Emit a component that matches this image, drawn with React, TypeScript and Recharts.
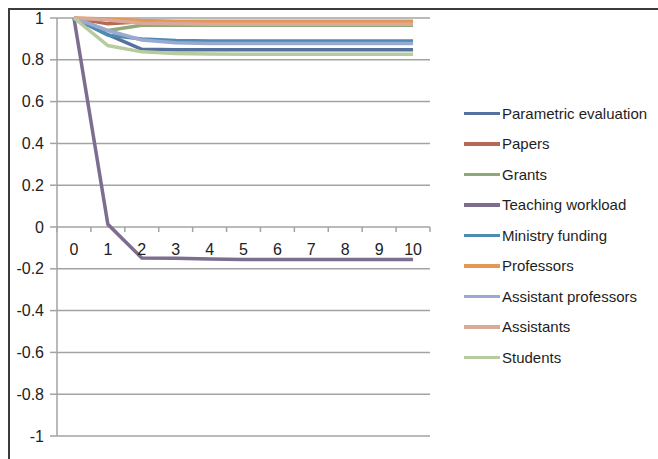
import React from 'react';
import { LineChart, Line, XAxis, YAxis, CartesianGrid } from 'recharts';

// Iteration steps on the horizontal axis
const steps = [0, 1, 2, 3, 4, 5, 6, 7, 8, 9, 10];

// Normalised indicator values per step
const parametricEvaluation = [1, 0.92, 0.85, 0.848, 0.848, 0.848, 0.848, 0.848, 0.848, 0.848, 0.848];
const papers = [1, 0.972, 0.982, 0.982, 0.982, 0.982, 0.982, 0.982, 0.982, 0.982, 0.982];
const grants = [1, 0.94, 0.965, 0.965, 0.965, 0.965, 0.965, 0.965, 0.965, 0.965, 0.965];
const teachingWorkload = [1, 0.013, -0.148, -0.15, -0.153, -0.155, -0.155, -0.155, -0.155, -0.155, -0.155];
const ministryFunding = [1, 0.918, 0.9, 0.892, 0.89, 0.89, 0.89, 0.89, 0.89, 0.89, 0.89];
const professors = [1, 0.995, 0.988, 0.985, 0.985, 0.985, 0.985, 0.985, 0.985, 0.985, 0.985];
const assistantProfessors = [1, 0.94, 0.895, 0.882, 0.878, 0.878, 0.878, 0.878, 0.878, 0.878, 0.878];
const assistants = [1, 0.99, 0.975, 0.972, 0.97, 0.97, 0.97, 0.97, 0.97, 0.97, 0.97];
const students = [1, 0.868, 0.838, 0.83, 0.828, 0.827, 0.827, 0.827, 0.827, 0.827, 0.827];

const yTicks = [-1, -0.8, -0.6, -0.4, -0.2, 0, 0.2, 0.4, 0.6, 0.8, 1];

const series = [
  { key: 'parametric', name: 'Parametric evaluation', values: parametricEvaluation, color: '#55729f' },
  { key: 'papers', name: 'Papers', values: papers, color: '#b56a55' },
  { key: 'grants', name: 'Grants', values: grants, color: '#8fa976' },
  { key: 'teaching', name: 'Teaching workload', values: teachingWorkload, color: '#7d6d8f' },
  { key: 'ministry', name: 'Ministry funding', values: ministryFunding, color: '#4f8ab3' },
  { key: 'professors', name: 'Professors', values: professors, color: '#e59756' },
  { key: 'asstProf', name: 'Assistant professors', values: assistantProfessors, color: '#98aacf' },
  { key: 'assistants', name: 'Assistants', values: assistants, color: '#dba99a' },
  { key: 'students', name: 'Students', values: students, color: '#b8cb9f' },
];

const data = steps.map((s, i) => {
  const row: Record<string, number> = { step: s };
  series.forEach((sr) => {
    row[sr.key] = sr.values[i];
  });
  return row;
});

// Chart geometry
const CHART_W = 648;
const CHART_H = 449;
const MARGIN = { top: 8, right: 228, bottom: 0, left: 0 };
const Y_AXIS_W = 47;
const X_AXIS_H = 23;
const Y_MIN = -1;
const Y_MAX = 1;
const PLOT_H = CHART_H - MARGIN.top - MARGIN.bottom - X_AXIS_H;
const PLOT_W = CHART_W - MARGIN.left - MARGIN.right - Y_AXIS_W;
const ZERO_Y = MARGIN.top + (PLOT_H * (Y_MAX - 0)) / (Y_MAX - Y_MIN);
const HALF_STEP = PLOT_W / steps.length / 2;

const FONT = '"Liberation Sans", Arial, sans-serif';
const AXIS_GRAY = '#a3a3a3';

// Category labels sit just under the zero line, with tick marks on category boundaries
const ZeroLineTick = (props: any) => {
  const { x, payload, index } = props;
  const last = index === steps.length - 1;
  return (
    <g>
      <line x1={x - HALF_STEP} x2={x - HALF_STEP} y1={ZERO_Y} y2={ZERO_Y + 5} stroke={AXIS_GRAY} strokeWidth={1.5} />
      {last && (
        <line x1={x + HALF_STEP} x2={x + HALF_STEP} y1={ZERO_Y} y2={ZERO_Y + 5} stroke={AXIS_GRAY} strokeWidth={1.5} />
      )}
      <text x={x} y={ZERO_Y + 28} textAnchor="middle" fontSize={16} fontFamily={FONT} fill="#222">
        {payload.value}
      </text>
    </g>
  );
};

// Series key listed in drawing order
const SeriesKey = () => (
  <div
    style={{
      position: 'absolute',
      left: 454,
      top: 88,
      width: 200,
      fontFamily: FONT,
      fontSize: 15,
      color: '#1e1e1e',
    }}
  >
    {series.map((s) => (
      <div key={s.key} style={{ display: 'flex', alignItems: 'center', height: 30.5 }}>
        <div style={{ width: 36, height: 3.5, background: s.color, marginRight: 2, flexShrink: 0 }} />
        <span style={{ whiteSpace: 'nowrap' }}>{s.name}</span>
      </div>
    ))}
  </div>
);

export default function App() {
  return (
    <div
      style={{
        position: 'absolute',
        left: 8,
        top: 8,
        width: 650,
        height: 451,
        boxSizing: 'border-box',
        borderTop: '2px solid #3c3c3c',
        borderLeft: '2px solid #3c3c3c',
        background: '#fff',
      }}
    >
      <LineChart width={CHART_W} height={CHART_H} data={data} margin={MARGIN}>
        <CartesianGrid vertical={false} stroke={AXIS_GRAY} strokeWidth={1.5} />
        <XAxis
          dataKey="step"
          type="number"
          domain={[-0.5, 10.5]}
          ticks={steps}
          interval={0}
          height={X_AXIS_H}
          axisLine={false}
          tickLine={false}
          tick={<ZeroLineTick />}
        />
        <YAxis
          type="number"
          domain={[Y_MIN, Y_MAX]}
          ticks={yTicks}
          interval={0}
          width={Y_AXIS_W}
          axisLine={{ stroke: AXIS_GRAY, strokeWidth: 1.5 }}
          tickLine={{ stroke: AXIS_GRAY, strokeWidth: 1.5 }}
          tickSize={7}
          tickMargin={6}
          tick={{ fontSize: 16, fontFamily: FONT, fill: '#222' }}
          tickFormatter={(v: number) => String(v)}
        />
        {series.map((s) => (
          <Line
            key={s.key}
            type="linear"
            dataKey={s.key}
            name={s.name}
            stroke={s.color}
            strokeWidth={3.5}
            dot={false}
            activeDot={false}
            isAnimationActive={false}
          />
        ))}
      </LineChart>
      <SeriesKey />
    </div>
  );
}
